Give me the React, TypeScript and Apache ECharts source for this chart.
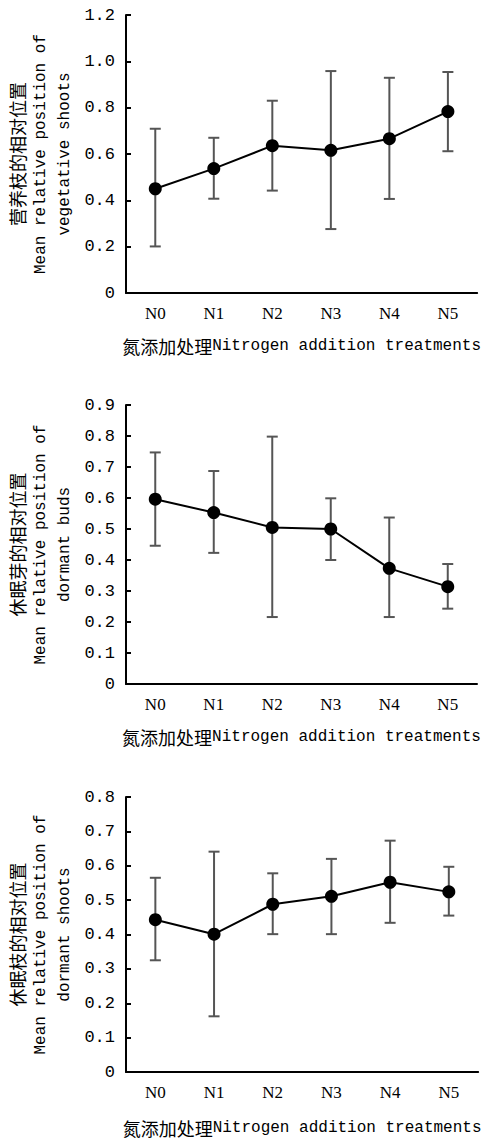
import React, { useEffect, useRef } from "react";
import * as echarts from "echarts";

const categories = ["N0", "N1", "N2", "N3", "N4", "N5"];

// Panel 1: vegetative shoots
const vegMean = [0.45, 0.537, 0.636, 0.616, 0.666, 0.783];
const vegLow = [0.201, 0.407, 0.442, 0.276, 0.406, 0.612];
const vegHigh = [0.709, 0.67, 0.83, 0.958, 0.929, 0.954];

// Panel 2: dormant buds
const budMean = [0.596, 0.553, 0.505, 0.5, 0.373, 0.314];
const budLow = [0.446, 0.423, 0.216, 0.4, 0.216, 0.243];
const budHigh = [0.747, 0.687, 0.798, 0.599, 0.537, 0.387];

// Panel 3: dormant shoots
const dsMean = [0.443, 0.401, 0.488, 0.511, 0.552, 0.524];
const dsLow = [0.325, 0.162, 0.401, 0.401, 0.434, 0.455];
const dsHigh = [0.565, 0.641, 0.578, 0.62, 0.673, 0.597];

const yMax = [1.2, 0.9, 0.8];
const yInterval = [0.2, 0.1, 0.1];

const yTitlesCn = ["营养枝的相对位置", "休眠芽的相对位置", "休眠枝的相对位置"];
const yTitlesEn1 = ["Mean relative position of", "Mean relative position of", "Mean relative position of"];
const yTitlesEn2 = ["vegetative shoots", "dormant buds", "dormant shoots"];
const xTitleCn = "氮添加处理";
const xTitleEn = "Nitrogen addition treatments";

const MONO = "'Liberation Mono', 'DejaVu Sans Mono', monospace";
const SERIF = "'Liberation Serif', 'DejaVu Serif', serif";
const CJK = "'Noto Sans CJK SC', sans-serif";

export default function App() {
  const ref = useRef<HTMLDivElement>(null);

  useEffect(() => {
    document.body.style.margin = "0";
    if (!ref.current) return;
    const chart = echarts.init(ref.current, undefined, { renderer: "svg" });

    const grids = [
      { left: 124, right: 1, top: 15, height: 278 },
      { left: 122, right: 5, top: 405, height: 279 },
      { left: 123, right: 2, top: 797, height: 275 },
    ];
    const means = [vegMean, budMean, dsMean];
    const lows = [vegLow, budLow, dsLow];
    const highs = [vegHigh, budHigh, dsHigh];
    const xNameGaps = [44, 44, 47];

    const xAxis = grids.map((_, i) => ({
      type: "category" as const,
      gridIndex: i,
      data: categories,
      boundaryGap: true,
      axisLine: { lineStyle: { color: "#000", width: 2 } },
      axisTick: { inside: true, length: 5, lineStyle: { color: "#000", width: 2 } },
      axisLabel: { color: "#000", fontFamily: SERIF, fontSize: 17, margin: 12 },
      name: "{cn|" + xTitleCn + "}{en|" + xTitleEn + "}",
      nameLocation: "middle" as const,
      nameGap: xNameGaps[i],
      nameTextStyle: {
        rich: {
          cn: { fontFamily: CJK, fontSize: 18, color: "#000" },
          en: { fontFamily: MONO, fontSize: 16, color: "#000" },
        },
      },
    }));

    const yAxis = grids.map((_, i) => ({
      type: "value" as const,
      gridIndex: i,
      min: 0,
      max: yMax[i],
      interval: yInterval[i],
      splitLine: { show: false },
      axisLine: { show: true, lineStyle: { color: "#000", width: 2 } },
      axisTick: { show: true, inside: true, length: 5, lineStyle: { color: "#000", width: 2 } },
      axisLabel: {
        color: "#000",
        fontFamily: MONO,
        fontSize: 17,
        margin: 11,
        formatter: (v: number) => (v === 0 ? "0" : v.toFixed(1)),
      },
      name:
        "{cn|" + yTitlesCn[i] + "}\n{en|" + yTitlesEn1[i] + "}\n{en|" + yTitlesEn2[i] + "}",
      nameLocation: "middle" as const,
      nameRotate: 90,
      nameGap: 45,
      nameTextStyle: {
        align: "center",
        rich: {
          cn: { fontFamily: CJK, fontSize: 18, lineHeight: 25, color: "#000", align: "center" },
          en: { fontFamily: MONO, fontSize: 16, lineHeight: 24, color: "#000", align: "center" },
        },
      },
    }));

    const series: any[] = [];
    grids.forEach((_, i) => {
      series.push({
        type: "custom",
        xAxisIndex: i,
        yAxisIndex: i,
        z: 1,
        data: categories.map((_, k) => [k, lows[i][k], highs[i][k]]),
        encode: { x: 0, y: [1, 2] },
        renderItem: (params: any, api: any) => {
          const x = api.value(0);
          const top = api.coord([x, api.value(2)]);
          const bot = api.coord([x, api.value(1)]);
          const w = 5.5;
          const style = { stroke: "#555", lineWidth: 2 };
          return {
            type: "group",
            children: [
              { type: "line", shape: { x1: top[0], y1: top[1], x2: bot[0], y2: bot[1] }, style },
              { type: "line", shape: { x1: top[0] - w, y1: top[1], x2: top[0] + w, y2: top[1] }, style },
              { type: "line", shape: { x1: bot[0] - w, y1: bot[1], x2: bot[0] + w, y2: bot[1] }, style },
            ],
          };
        },
      });
      series.push({
        type: "line",
        xAxisIndex: i,
        yAxisIndex: i,
        z: 3,
        data: means[i],
        symbol: "circle",
        symbolSize: 13,
        itemStyle: { color: "#000" },
        lineStyle: { color: "#000", width: 2 },
      });
    });

    chart.setOption({
      animation: false,
      backgroundColor: "#fff",
      grid: grids,
      xAxis,
      yAxis,
      series,
    });

    return () => chart.dispose();
  }, []);

  return <div ref={ref} style={{ width: 482, height: 1141 }} />;
}
